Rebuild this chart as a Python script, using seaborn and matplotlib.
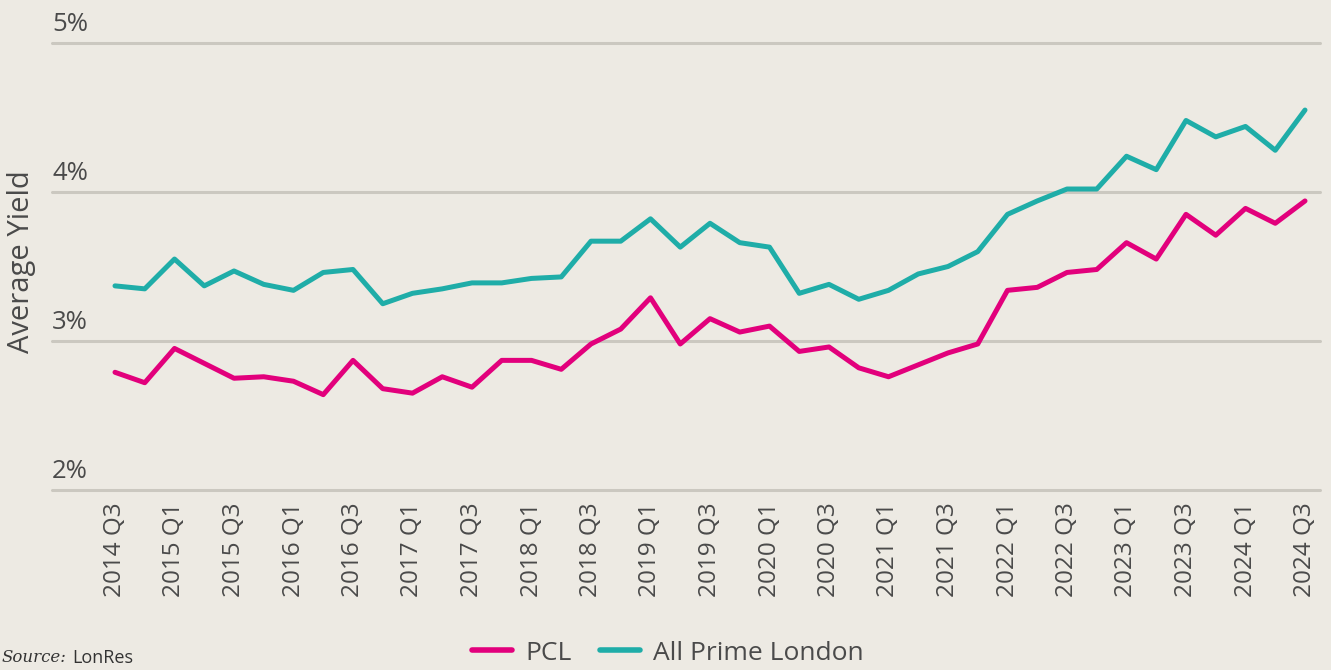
import pandas as pd
import numpy as np
import matplotlib
matplotlib.use("Agg")
import matplotlib.pyplot as plt
import matplotlib.transforms as mtransforms
import seaborn as sns

# -----------------------------
# Data
# -----------------------------
quarters = []
for year in range(2014, 2025):
    for q in [1, 2, 3, 4]:
        if (year == 2014 and q < 3) or (year == 2024 and q > 3):
            continue
        quarters.append(f"{year} Q{q}")

pcl = [2.79, 2.72, 2.95, 2.85, 2.75, 2.76, 2.73, 2.64, 2.87, 2.68,
       2.65, 2.76, 2.69, 2.87, 2.87, 2.81, 2.98, 3.08, 3.29, 2.98,
       3.15, 3.06, 3.10, 2.93, 2.96, 2.82, 2.76, 2.84, 2.92, 2.98,
       3.34, 3.36, 3.46, 3.48, 3.66, 3.55, 3.85, 3.71, 3.89, 3.79,
       3.94]

all_prime = [3.37, 3.35, 3.55, 3.37, 3.47, 3.38, 3.34, 3.46, 3.48, 3.25,
             3.32, 3.35, 3.39, 3.39, 3.42, 3.43, 3.67, 3.67, 3.82, 3.63,
             3.79, 3.66, 3.63, 3.32, 3.38, 3.28, 3.34, 3.45, 3.50, 3.60,
             3.85, 3.94, 4.02, 4.02, 4.24, 4.15, 4.48, 4.37, 4.44, 4.28,
             4.55]

series_names = ["PCL", "All Prime London"]
colors = ["#E2007C", "#1FADA8"]
y_ticks = [2, 3, 4, 5]
y_labels = ["2%", "3%", "4%", "5%"]

df = pd.DataFrame({
    "idx": list(range(len(quarters))) * 2,
    "quarter": quarters * 2,
    "yield": pcl + all_prime,
    "series": [series_names[0]] * len(pcl) + [series_names[1]] * len(all_prime),
})

# -----------------------------
# Style
# -----------------------------
bg = "#EDEAE3"
text_col = "#4A4A4A"
grid_col = "#CBC8C0"

sns.set_style("white")
plt.rcParams["font.family"] = ["Open Sans", "DejaVu Sans"]

W, H = 1331, 670
fig = plt.figure(figsize=(W / 100, H / 100), dpi=100, facecolor=bg)
ax = fig.add_axes([52 / W, 1 - 490 / H, (1320 - 52) / W, (490 - 43) / H])
ax.set_facecolor(bg)

# grid lines
for v in y_ticks:
    ax.axhline(v, color=grid_col, lw=2.2, zorder=0, clip_on=False)

sns.lineplot(
    data=df, x="idx", y="yield", hue="series",
    hue_order=series_names, palette=colors,
    linewidth=3.6, ax=ax, legend=False, zorder=3,
)

n = len(quarters)
step = 29.75
ax.set_xlim(-(115 - 52) / step, n - 1 + (1320 - 1305) / step)
ax.set_ylim(2, 5)

for s in ax.spines.values():
    s.set_visible(False)

# x ticks every other quarter
ax.set_xticks(range(0, n, 2))
ax.set_xticklabels(quarters[::2], rotation=90, fontsize=17.5, color=text_col)
ax.tick_params(axis="x", length=0, pad=9)
ax.set_yticks([])
ax.set_xlabel("")
ax.set_ylabel("")

# y labels sit above the grid lines
trans = mtransforms.blended_transform_factory(ax.transAxes, ax.transData)
for v, lab in zip(y_ticks, y_labels):
    ax.annotate(lab, xy=(0, v), xycoords=trans, xytext=(0, 4),
                textcoords="offset points", ha="left", va="bottom",
                fontsize=18.5, color=text_col, annotation_clip=False)

fig.text(22 / W, 1 - 262 / H, "Average Yield", rotation=90,
         ha="center", va="center", fontsize=21, color=text_col)

# legend
handles = [plt.Line2D([], [], color=c, lw=4) for c in colors]
fig.legend(handles, series_names, loc="center", bbox_to_anchor=(668 / W, 1 - 653 / H),
           ncol=2, frameon=False, fontsize=19, handlelength=1.5,
           handletextpad=0.5, columnspacing=1.1, labelcolor=text_col,
           borderpad=0.1)

# source note
fig.text(2 / W, 1 - 658 / H, "Source:", ha="left", va="center",
         fontsize=12, fontstyle="italic", family="DejaVu Serif", color="#333333")
fig.text(72 / W, 1 - 658 / H, "LonRes", ha="left", va="center",
         fontsize=13, color="#333333")

fig.savefig("out.png", dpi=100, facecolor=bg)
